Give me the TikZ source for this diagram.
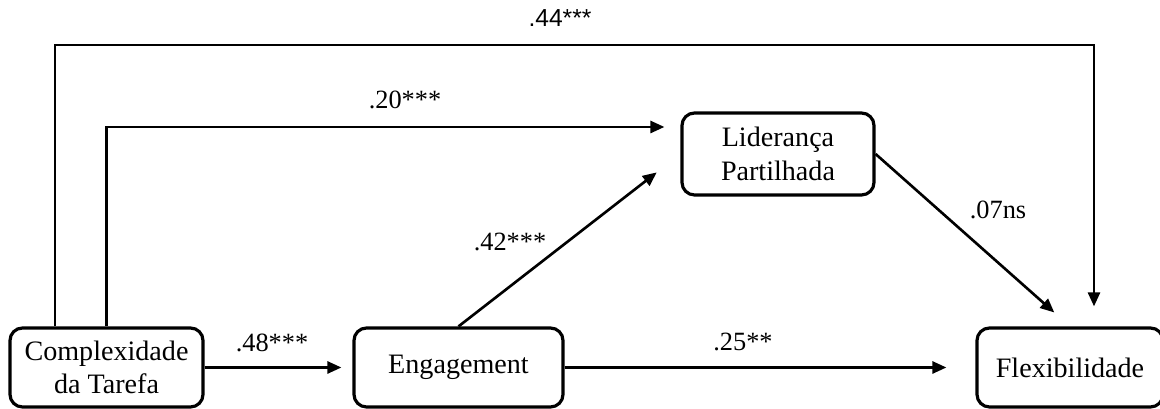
\documentclass[tikz,border=0pt]{standalone}
\usepackage{fontspec}
\setmainfont{Liberation Serif}
\newfontfamily\labsans{Liberation Sans}
\usetikzlibrary{arrows.meta}

\begin{document}
\begin{tikzpicture}[
    box/.style={draw, line width=1.8pt, rounded corners=0.25cm, align=center,
                inner sep=0pt, font=\fontsize{16}{19}\selectfont},
    arr/.style={line width=1.5pt, -{Triangle[length=2.8mm,width=2.4mm]}},
    coef/.style={font=\fontsize{15}{17}\selectfont}
  ]
            \useasboundingbox (0,0) rectangle (23.2,8.18);

            % variables
            \node[box, minimum width=3.86cm, minimum height=1.58cm] (comp) at (2.13,0.83) {Complexidade\\da Tarefa};
            \node[box, minimum width=4.18cm, minimum height=1.58cm] (eng) at (9.17,0.83) {Engagement};
            \node[box, minimum width=3.84cm, minimum height=1.64cm] (lid) at (15.56,5.1) {Liderança\\Partilhada};
            \node[box, minimum width=3.72cm, minimum height=1.58cm] (flex) at (21.4,0.83) {Flexibilidade};

            \coordinate (top) at (0,7.28);
            \coordinate (compout) at ([xshift=-1.03cm]comp.north);
            \coordinate (flexin) at ([xshift=0.48cm]flex.north);

            % paths
            \draw[arr, shorten >=0.22cm] (comp.east) -- (eng.west);
            \draw[arr, shorten >=0.4cm] (compout) -- (compout |- top) -| (flexin);
            \draw[arr, shorten >=0.32cm] (comp.north) |- ([yshift=0.54cm]lid.west);
            \draw[arr, shorten >=0.6cm] (eng.north) -- (lid.west);
            \draw[arr, shorten >=0.58cm] (eng.east) -- (flex.west);
            \draw[arr, shorten >=0.42cm] (lid.east) -- (flex.north);

            % coefficients
            \node[font=\labsans\fontsize{14}{16}\selectfont] (c44) at (11.2,7.82) {.44***};
            \node[coef] (c20) at (8.1,6.18) {.20***};
            \node[coef] (c48) at (5.44,1.32) {.48***};
            \node[coef] (c42) at (10.2,3.34) {.42***};
            \node[coef] (c25) at (14.86,1.34) {.25**};
            \node[coef] (c07) at (19.96,3.98) {.07ns};
\end{tikzpicture}
\end{document}
